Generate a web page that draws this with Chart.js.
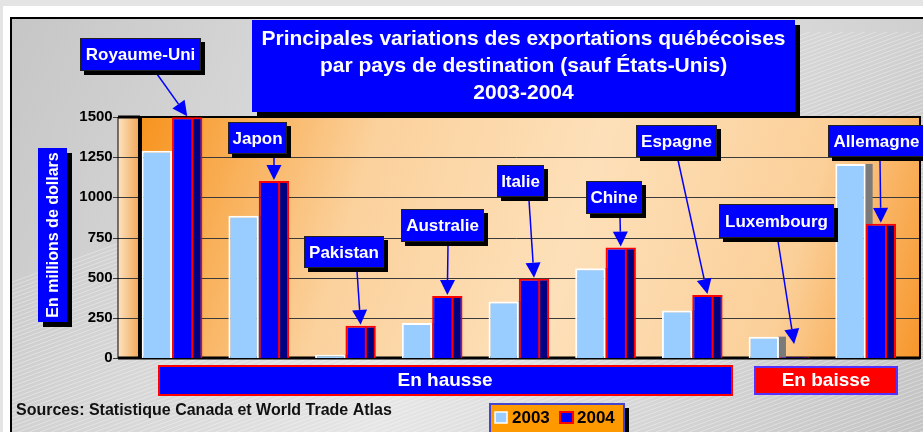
<!DOCTYPE html>
<html lang="fr">
<head>
<meta charset="UTF-8">
<title>Principales variations des exportations québécoises</title>
<script src="https://cdn.jsdelivr.net/npm/chart.js"></script>
<style>
  body { margin: 0; background: #fff; }
  #zone { position: relative; width: 923px; height: 432px; }
</style>
</head>
<body>
<div id="zone"><canvas id="graphique"></canvas></div>
<script>
// Données (en millions de dollars)
const pays = ['Royaume-Uni', 'Japon', 'Pakistan', 'Australie', 'Italie', 'Chine', 'Espagne', 'Luxembourg', 'Allemagne'];
const valeurs2003 = [1290, 885, 20, 218, 351, 559, 295, 133, 1208];
const valeurs2004 = [1498, 1102, 200, 386, 494, 687, 392, 5, 835];
const annees = ['2003', '2004'];
const titreLignes = ['Principales variations des exportations québécoises', 'par pays de destination (sauf États-Unis)', '2003-2004'];

// Mise en page des étiquettes : gauche, haut, droite, bas, départ de la flèche
const etiquettes = [
    [80, 38, 201, 71, 157],
    [228, 122, 287, 154, 274],
    [304, 236, 384, 268, 357],
    [401, 209, 484, 242, 448],
    [497, 165, 544, 197, 529],
    [586, 181, 642, 214, 620],
    [636, 125, 717, 157, 678],
    [719, 204, 834, 238, 778],
    [828, 125, 925, 157, 880]
];

const police = '"Liberation Sans", Arial, sans-serif';

function boite(ctx, x1, y1, x2, y2, fond, bord, ombre) {
    if (ombre) {
        ctx.fillStyle = '#000';
        ctx.fillRect(x1 + ombre, y1 + ombre, x2 - x1, y2 - y1);
    }
    ctx.fillStyle = fond;
    ctx.fillRect(x1, y1, x2 - x1, y2 - y1);
    if (bord) {
        ctx.strokeStyle = bord;
        ctx.lineWidth = 2;
        ctx.strokeRect(x1 + 1, y1 + 1, x2 - x1 - 2, y2 - y1 - 2);
    }
}

function texte(ctx, t, x, y, taille, couleur, align) {
    ctx.font = 'bold ' + taille + 'px ' + police;
    ctx.fillStyle = couleur;
    ctx.textAlign = align || 'center';
    ctx.textBaseline = 'middle';
    ctx.fillText(t, x, y);
}

function fleche(ctx, x1, y1, x2, y2) {
    const ang = Math.atan2(y2 - y1, x2 - x1);
    const lg = 15, demi = 7.5;
    const bx = x2 - lg * Math.cos(ang), by = y2 - lg * Math.sin(ang);
    ctx.strokeStyle = '#0000ff';
    ctx.lineWidth = 1.5;
    ctx.beginPath();
    ctx.moveTo(x1, y1);
    ctx.lineTo(bx, by);
    ctx.stroke();
    ctx.fillStyle = '#0000ff';
    ctx.beginPath();
    ctx.moveTo(x2, y2);
    ctx.lineTo(bx + demi * Math.sin(ang), by - demi * Math.cos(ang));
    ctx.lineTo(bx - demi * Math.sin(ang), by + demi * Math.cos(ang));
    ctx.closePath();
    ctx.fill();
}

// Fond, cadre, mur orangé et lignes de grille
const fondPlugin = {
    id: 'fond',
    beforeDraw(chart) {
        const ctx = chart.ctx;
        const y = chart.scales.y;
        const W = chart.width, H = chart.height;
        ctx.save();
        ctx.fillStyle = '#fff';
        ctx.fillRect(0, 0, W, H);
        ctx.fillStyle = '#e4e4e4';
        ctx.fillRect(0, 0, W, 6);
        ctx.fillRect(0, 0, 3, H);

        // cadre gris
        const g = ctx.createLinearGradient(12, 19, W, H);
        g.addColorStop(0, '#c6c6c6');
        g.addColorStop(0.5, '#e6e6e6');
        g.addColorStop(1, '#c4c4c4');
        ctx.fillStyle = g;
        ctx.fillRect(12, 19, W - 12, H - 19);
        ctx.save();
        ctx.beginPath();
        ctx.rect(12, 19, W - 12, H - 19);
        ctx.clip();
        ctx.strokeStyle = 'rgba(255,255,255,0.35)';
        ctx.lineWidth = 1;
        for (let k = -400; k < W + 400; k += 11) {
            ctx.beginPath();
            ctx.moveTo(k, H);
            ctx.lineTo(k + 1100, H - 400);
            ctx.stroke();
        }
        ctx.restore();
        ctx.strokeStyle = '#000';
        ctx.lineWidth = 2;
        ctx.beginPath();
        ctx.moveTo(11, H);
        ctx.lineTo(11, 18);
        ctx.lineTo(W, 18);
        ctx.stroke();

        const haut = y.getPixelForValue(1500), bas = y.getPixelForValue(0);
        const xMur = 140, xFin = 920, xAxe = 118;

        // paroi gauche
        const gp = ctx.createLinearGradient(xAxe, 0, xMur, 0);
        gp.addColorStop(0, '#fde3c0');
        gp.addColorStop(1, '#f2a554');
        ctx.fillStyle = gp;
        ctx.fillRect(xAxe, haut, xMur - xAxe, bas - haut);

        // mur du fond
        const gm = ctx.createLinearGradient(xMur, haut, xFin, bas);
        gm.addColorStop(0, '#f7931e');
        gm.addColorStop(0.28, '#fbd19c');
        gm.addColorStop(0.55, '#fde0b9');
        gm.addColorStop(0.82, '#fbcf98');
        gm.addColorStop(1, '#f7962a');
        ctx.fillStyle = gm;
        ctx.fillRect(xMur, haut, xFin - xMur, bas - haut);

        // grille
        ctx.strokeStyle = '#3a3a3a';
        ctx.lineWidth = 1;
        y.ticks.forEach(t => {
            const py = Math.round(y.getPixelForValue(t.value)) + 0.5;
            ctx.beginPath();
            ctx.moveTo(113, py);
            ctx.lineTo(xFin, py);
            ctx.stroke();
        });

        // arêtes
        ctx.strokeStyle = '#000';
        ctx.lineWidth = 2;
        ctx.strokeRect(xMur, haut, xFin - xMur, bas - haut);
        ctx.lineWidth = 4;
        ctx.beginPath();
        ctx.moveTo(xMur, haut);
        ctx.lineTo(xMur, bas);
        ctx.stroke();
        ctx.lineWidth = 3;
        ctx.beginPath();
        ctx.moveTo(xAxe, haut);
        ctx.lineTo(xMur, haut);
        ctx.moveTo(xAxe, bas);
        ctx.lineTo(xFin, bas);
        ctx.stroke();
        ctx.lineWidth = 1;
        ctx.beginPath();
        ctx.moveTo(xAxe, haut);
        ctx.lineTo(xAxe, bas);
        ctx.stroke();
        ctx.restore();
    }
};

// Faces latérales des barres (effet 3D)
const reliefPlugin = {
    id: 'relief',
    beforeDatasetsDraw(chart) {
        const ctx = chart.ctx;
        ctx.save();
        chart.getDatasetMeta(0).data.forEach(b => {
            const d = b.x + b.width / 2;
            ctx.fillStyle = '#7a7a7a';
            ctx.fillRect(d - 1, b.y, 8, b.base - b.y);
        });
        ctx.restore();
    },
    afterDatasetsDraw(chart) {
        const ctx = chart.ctx;
        ctx.save();
        chart.getDatasetMeta(1).data.forEach(b => {
            if (b.base - b.y < 5) return;
            const d = b.x + b.width / 2;
            ctx.fillStyle = '#000080';
            ctx.fillRect(d - 9, b.y + 2, 7, b.base - b.y - 2);
            ctx.strokeStyle = '#ff0000';
            ctx.lineWidth = 2;
            ctx.beginPath();
            ctx.moveTo(d - 10, b.y + 1);
            ctx.lineTo(d - 10, b.base);
            ctx.stroke();
        });
        ctx.restore();
    }
};

// Titre, étiquettes, flèches, légende et source
const annotationsPlugin = {
    id: 'annotations',
    afterDraw(chart) {
        const ctx = chart.ctx;
        ctx.save();

        // titre
        boite(ctx, 252, 20, 795, 112, '#0000ff', null, 5);
        titreLignes.forEach((l, i) => texte(ctx, l, 523.5, 39 + i * 27, 21, '#fff'));

        // titre de l'axe vertical
        boite(ctx, 38, 148, 67, 322, '#0000ff', null, 5);
        ctx.save();
        ctx.translate(53, 235);
        ctx.rotate(-Math.PI / 2);
        texte(ctx, 'En millions de dollars', 0, 1, 16, '#fff');
        ctx.restore();

        // étiquettes des pays et flèches
        const barres = chart.getDatasetMeta(1).data;
        pays.forEach((p, i) => {
            const [x1, y1, x2, y2, xd] = etiquettes[i];
            const b = barres[i];
            const yPointe = Math.min(b.y - 1, b.base - 14);
            fleche(ctx, xd, y2 + 3, b.x, yPointe);
            boite(ctx, x1, y1, x2, y2, '#0000ff', null, 4);
            ctx.strokeStyle = '#222';
            ctx.lineWidth = 1;
            ctx.strokeRect(x1 + 0.5, y1 + 0.5, x2 - x1 - 1, y2 - y1 - 1);
            texte(ctx, p, (x1 + x2) / 2, (y1 + y2) / 2 + 1, 17, '#fff');
        });

        // bandeaux
        boite(ctx, 158, 365, 733, 396, '#0000ff', '#ff0000', 0);
        texte(ctx, 'En hausse', 445, 381, 19, '#fff');
        boite(ctx, 754, 366, 898, 395, '#ff0000', '#5533ff', 0);
        texte(ctx, 'En baisse', 826, 381, 19, '#fff');

        // source
        texte(ctx, 'Sources: Statistique Canada et World Trade Atlas', 16, 411, 16, '#111', 'left');

        // légende
        ctx.fillStyle = '#000';
        ctx.fillRect(625, 408, 4, 30);
        boite(ctx, 489, 403, 625, 440, '#ff9900', '#4444cc', 0);
        ctx.fillStyle = '#99ccff';
        ctx.fillRect(495, 412, 12, 11);
        ctx.strokeStyle = '#fff';
        ctx.lineWidth = 1.5;
        ctx.strokeRect(495, 412, 12, 11);
        texte(ctx, annees[0], 512, 418, 17, '#000', 'left');
        ctx.fillStyle = '#0000ff';
        ctx.fillRect(560, 412, 13, 11);
        ctx.strokeStyle = '#ff0000';
        ctx.lineWidth = 2;
        ctx.strokeRect(560, 412, 13, 11);
        texte(ctx, annees[1], 577, 418, 17, '#000', 'left');
        ctx.restore();
    }
};

new Chart(document.getElementById('graphique'), {
    type: 'bar',
    data: {
        labels: pays,
        datasets: [{
            label: annees[0],
            data: valeurs2003,
            backgroundColor: '#99ccff',
            borderColor: '#ffffff',
            borderWidth: 2,
            categoryPercentage: 0.7,
            barPercentage: 1.0
        }, {
            label: annees[1],
            data: valeurs2004,
            backgroundColor: '#0000ff',
            borderColor: '#ff0000',
            borderWidth: 2,
            categoryPercentage: 0.7,
            barPercentage: 1.0
        }]
    },
    options: {
        responsive: true,
        maintainAspectRatio: false,
        animation: false,
        layout: {
            padding: { top: 117, bottom: 74, left: 0, right: 14 }
        },
        plugins: {
            legend: { display: false },
            title: { display: false },
            tooltip: { enabled: false }
        },
        scales: {
            x: { display: false },
            y: {
                min: 0,
                max: 1500,
                ticks: {
                    stepSize: 250,
                    padding: 16,
                    color: '#000',
                    font: { family: police, size: 15, weight: 'bold' },
                    callback: v => String(v)
                },
                grid: { display: false, drawTicks: false },
                border: { display: false },
                afterFit(scale) {
                    scale.width = 128.7;
                }
            }
        }
    },
    plugins: [fondPlugin, reliefPlugin, annotationsPlugin]
});
</script>
</body>
</html>
